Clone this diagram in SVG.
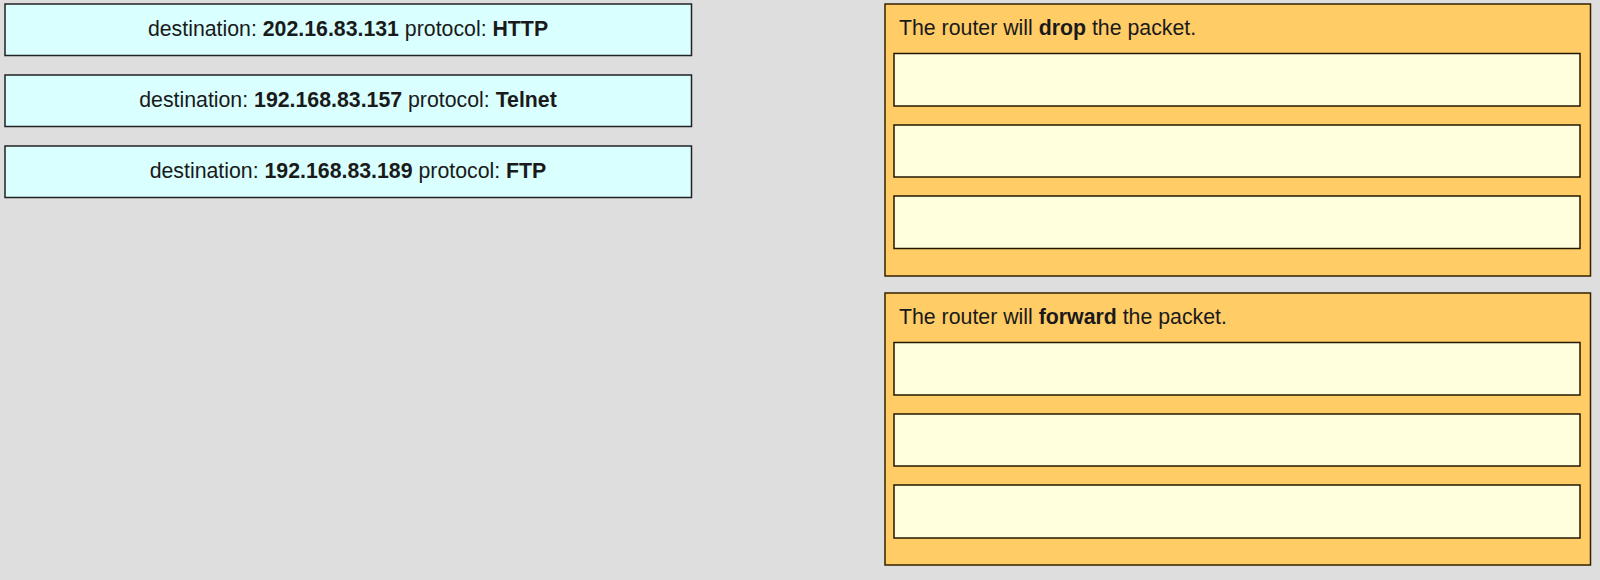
<svg xmlns="http://www.w3.org/2000/svg" width="1600" height="580" viewBox="0 0 1600 580">
<style>
.src{fill:#d9ffff;stroke:#222;stroke-width:1.5}
.panel{fill:#ffcc66;stroke:#332200;stroke-width:1.5}
.slot{fill:#ffffdd;stroke:#221800;stroke-width:1.5}
text{font-family:"Liberation Sans",Arial,sans-serif;font-size:21.3px;fill:#1a1a1a}
.b{font-weight:bold}
</style>
<rect x="0" y="0" width="1600" height="580" fill="#dedede"/>
<g id="packet1">
<rect class="src" x="5" y="4" width="686.5" height="51.5"/>
<text x="348" y="35.5" text-anchor="middle">destination: <tspan class="b">202.16.83.131</tspan> protocol: <tspan class="b">HTTP</tspan></text>
</g>
<g id="packet2">
<rect class="src" x="5" y="75" width="686.5" height="51.5"/>
<text x="348" y="106.5" text-anchor="middle">destination: <tspan class="b">192.168.83.157</tspan> protocol: <tspan class="b">Telnet</tspan></text>
</g>
<g id="packet3">
<rect class="src" x="5" y="146" width="686.5" height="51.5"/>
<text x="348" y="177.5" text-anchor="middle">destination: <tspan class="b">192.168.83.189</tspan> protocol: <tspan class="b">FTP</tspan></text>
</g>
<g id="drop">
<rect class="panel" x="885" y="4" width="705.5" height="272"/>
<text x="899" y="35">The router will <tspan class="b">drop</tspan> the packet.</text>
<rect class="slot" x="894" y="53.5" width="686" height="52.5"/>
<rect class="slot" x="894" y="125" width="686" height="52"/>
<rect class="slot" x="894" y="196" width="686" height="52.5"/>
</g>
<g id="forward">
<rect class="panel" x="885" y="293" width="705.5" height="272"/>
<text x="899" y="324">The router will <tspan class="b">forward</tspan> the packet.</text>
<rect class="slot" x="894" y="342.5" width="686" height="52.5"/>
<rect class="slot" x="894" y="414" width="686" height="52"/>
<rect class="slot" x="894" y="485" width="686" height="53"/>
</g>
<g id="connectors"/>
</svg>
